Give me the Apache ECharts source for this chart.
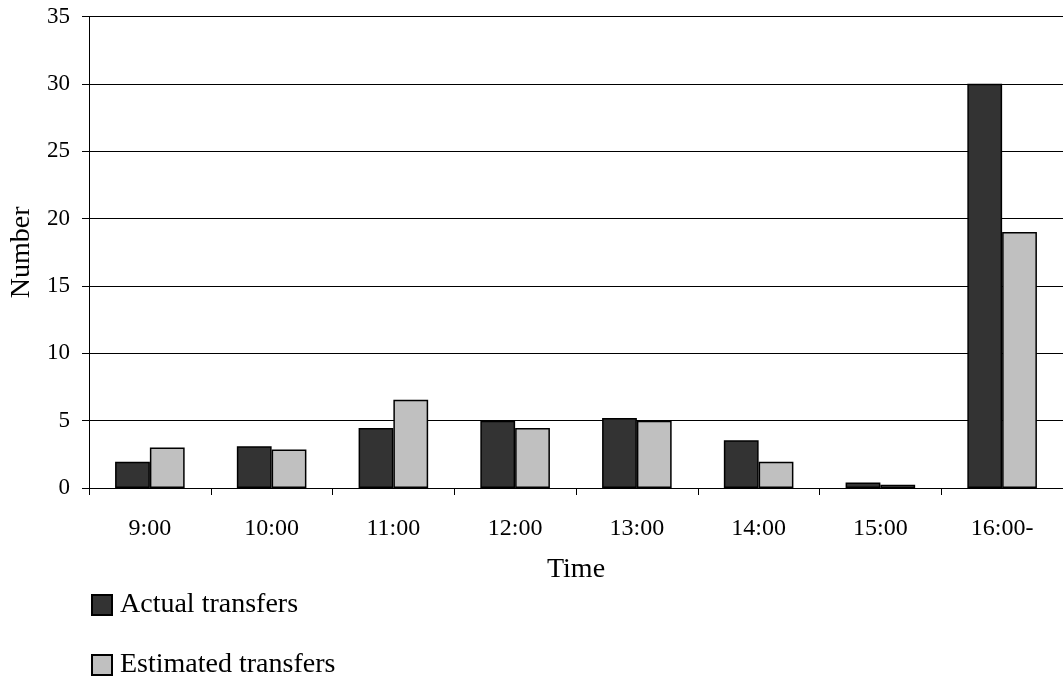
<!DOCTYPE html>
<html>
<head>
<meta charset="utf-8">
<script src="https://cdn.jsdelivr.net/npm/echarts@6/dist/echarts.min.js"></script>
<style>
html,body{margin:0;padding:0;background:#fff;}
#chart{width:1063px;height:677px;}
</style>
</head>
<body>
<div id="chart"></div>
<script>
const categories = ['9:00', '10:00', '11:00', '12:00', '13:00', '14:00', '15:00', '16:00-'];
const actualTransfers = [1.95, 3.1, 4.45, 5.0, 5.2, 3.55, 0.4, 30];
const estimatedTransfers = [3.0, 2.85, 6.55, 4.45, 5.0, 1.95, 0.25, 19];
const seriesNames = ['Actual transfers', 'Estimated transfers'];
const yMin = 0, yMax = 35, yInterval = 5;

const FONT = "'Liberation Serif', 'Times New Roman', serif";
const legendText = {fontFamily: FONT, fontSize: 28, color: '#000', padding: [0, 0, 0, 3]};
const chart = echarts.init(document.getElementById('chart'), null, {renderer: 'canvas'});
chart.setOption({
  animation: false,
  backgroundColor: '#ffffff',
  grid: {left: 89, top: 16.5, width: 978, height: 471.5, containLabel: false},
  legend: [
    {
      orient: 'vertical', left: 86, top: 586,
      itemWidth: 20, itemHeight: 20, icon: 'rect',
      data: [seriesNames[0]], textStyle: legendText
    },
    {
      orient: 'vertical', left: 86, top: 646,
      itemWidth: 20, itemHeight: 20, icon: 'rect',
      data: [seriesNames[1]], textStyle: legendText
    }
  ],
  xAxis: {
    type: 'category',
    data: categories,
    name: 'Time',
    nameLocation: 'middle',
    nameGap: 68,
    nameTextStyle: {fontFamily: FONT, fontSize: 28, color: '#000'},
    axisLine: {lineStyle: {color: '#000', width: 1}},
    axisTick: {show: true, length: 7, lineStyle: {color: '#000'}},
    axisLabel: {fontFamily: FONT, fontSize: 24, color: '#000', margin: 29}
  },
  yAxis: {
    type: 'value',
    min: yMin,
    max: yMax,
    interval: yInterval,
    name: 'Number',
    nameLocation: 'middle',
    nameGap: 50,
    nameRotate: 90,
    nameTextStyle: {fontFamily: FONT, fontSize: 28, color: '#000'},
    axisLine: {show: true, lineStyle: {color: '#000', width: 1}},
    axisTick: {show: true, length: 7, lineStyle: {color: '#000'}},
    axisLabel: {fontFamily: FONT, fontSize: 23, color: '#000', margin: 19},
    splitLine: {show: true, lineStyle: {color: '#000', width: 1}}
  },
  series: [
    {
      name: seriesNames[0],
      type: 'bar',
      data: actualTransfers,
      barGap: '0%',
      barCategoryGap: '42.86%',
      itemStyle: {color: '#333333', borderColor: '#000', borderWidth: 1.5}
    },
    {
      name: seriesNames[1],
      type: 'bar',
      data: estimatedTransfers,
      barGap: '0%',
      barCategoryGap: '42.86%',
      itemStyle: {color: '#c0c0c0', borderColor: '#000', borderWidth: 1.5}
    }
  ]
});
</script>
</body>
</html>
